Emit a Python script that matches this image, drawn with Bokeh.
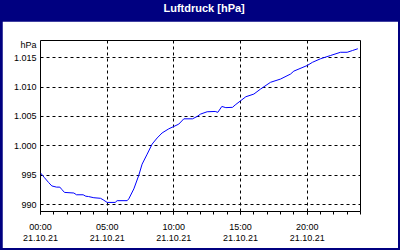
from bokeh.plotting import figure
from bokeh.models import Label, FixedTicker, LinearAxis, Range1d
from bokeh.layouts import column
from bokeh.embed import file_html
from bokeh.resources import INLINE

title_text = "Luftdruck [hPa]"
unit_text = "hPa"

hours = [0, 0.3, 0.6, 0.85, 1.2, 1.45, 1.6, 1.8, 2.5, 2.7, 3.2, 3.4, 3.6, 4.0, 4.5,
         4.7, 5.0, 5.6, 5.75, 6.5, 6.62, 7.0, 7.37, 7.62, 8.0, 8.37, 8.75, 9.12,
         9.62, 10.0, 10.37, 10.75, 11.4, 11.75, 12.0, 12.5, 13.1, 13.3, 13.6, 13.9,
         14.4, 14.6, 15.0, 15.4, 16.0, 16.5, 17.25, 18.0, 18.75, 19.0, 20.0, 20.4,
         21.0, 21.75, 22.5, 23.0, 23.4, 23.8]
pressure = [995.4, 994.6, 993.8, 993.2, 993.0, 993.0, 992.6, 992.1, 992.0, 991.7,
            991.7, 991.45, 991.4, 991.2, 991.1, 990.85, 990.4, 990.4, 990.7, 990.7,
            991.0, 992.7, 995.0, 996.9, 998.6, 1000.3, 1001.35, 1002.2, 1002.9,
            1003.3, 1003.7, 1004.6, 1004.6, 1005.0, 1005.4, 1005.8, 1005.85, 1005.7,
            1006.7, 1006.5, 1006.55, 1006.95, 1007.65, 1008.35, 1008.8, 1009.65,
            1010.8, 1011.35, 1012.2, 1012.7, 1013.65, 1014.2, 1014.8, 1015.35,
            1015.9, 1015.9, 1016.2, 1016.5]

x_ticks = [0, 5, 10, 15, 20]
x_minor = list(range(0, 25))
time_labels = ["00:00", "05:00", "10:00", "15:00", "20:00"]
date_labels = ["21.10.21", "21.10.21", "21.10.21", "21.10.21", "21.10.21"]
y_ticks = [990, 995, 1000, 1005, 1010, 1015]
y_labels = ["990", "995", "1.000", "1.005", "1.010", "1.015"]
unit_tick = 1017.15

NAVY = "#000080"
FONT = "Liberation Sans"
FS = "9px"

# header bar
head = figure(width=400, height=21, output_backend="svg", toolbar_location=None,
              x_range=Range1d(0, 1), y_range=Range1d(0, 1),
              min_border=0, min_border_left=0, min_border_right=0,
              min_border_top=0, min_border_bottom=0)
head.axis.visible = False
head.grid.visible = False
head.background_fill_color = NAVY
head.border_fill_color = NAVY
head.outline_line_color = None
head.add_layout(Label(x=0.505, y=0.64, text=title_text, text_align="center",
                      text_baseline="middle", text_color="white",
                      text_font=FONT, text_font_style="bold", text_font_size="11px"))

# main chart
p = figure(width=396, height=227, output_backend="svg", toolbar_location=None,
           x_range=Range1d(0, 24), y_range=Range1d(988.86, 1017.9),
           x_axis_location=None,
           min_border_left=38, min_border_right=38, min_border_top=19,
           min_border_bottom=37)
p.background_fill_color = "white"
p.border_fill_color = "white"
p.outline_line_color = "black"
p.outline_line_width = 1

p.line(hours, pressure, line_color="#0000ff", line_width=1)

# y axis (unit "hPa" shown at the top as an extra label)
ya = p.yaxis[0]
ya.ticker = FixedTicker(ticks=y_ticks + [unit_tick])
overrides = {t: l for t, l in zip(y_ticks, y_labels)}
overrides[unit_tick] = unit_text
ya.major_label_overrides = overrides
ya.axis_line_color = None
ya.major_tick_out = 0
ya.major_tick_in = 0
ya.minor_tick_out = 0
ya.minor_tick_in = 0
ya.major_label_standoff = 4
ya.major_label_text_font = FONT
ya.major_label_text_font_size = FS
ya.major_label_text_color = "black"

# x axis with times
xa = LinearAxis(ticker=FixedTicker(ticks=x_ticks, minor_ticks=x_minor))
xa.major_label_overrides = {t: l for t, l in zip(x_ticks, time_labels)}
xa.axis_line_color = "black"
xa.major_tick_out = 3
xa.major_tick_in = 0
xa.minor_tick_out = 3
xa.minor_tick_in = 0
xa.major_tick_line_color = "black"
xa.minor_tick_line_color = "black"
xa.major_label_standoff = 7
xa.major_label_text_font = FONT
xa.major_label_text_font_size = FS
xa.major_label_text_color = "black"
p.add_layout(xa, "below")

# x axis with dates
xd = LinearAxis(ticker=FixedTicker(ticks=x_ticks, minor_ticks=[]))
xd.major_label_overrides = {t: l for t, l in zip(x_ticks, date_labels)}
xd.axis_line_color = None
xd.major_tick_out = 0
xd.major_tick_in = 0
xd.minor_tick_out = 0
xd.minor_tick_in = 0
xd.major_label_standoff = 0
xd.major_label_text_font = FONT
xd.major_label_text_font_size = FS
xd.major_label_text_color = "black"
p.add_layout(xd, "below")

# grid
p.xgrid[0].ticker = FixedTicker(ticks=x_ticks)
p.ygrid[0].ticker = FixedTicker(ticks=y_ticks)
for g in (p.xgrid[0], p.ygrid[0]):
    g.grid_line_color = "black"
    g.grid_line_dash = "3 3"
    g.grid_line_width = 1

layout = column(head, p, spacing=0,
                styles={"background-color": NAVY, "padding": "0px 2px 2px 2px"})

open("out.html", "w").write(file_html(layout, INLINE))
